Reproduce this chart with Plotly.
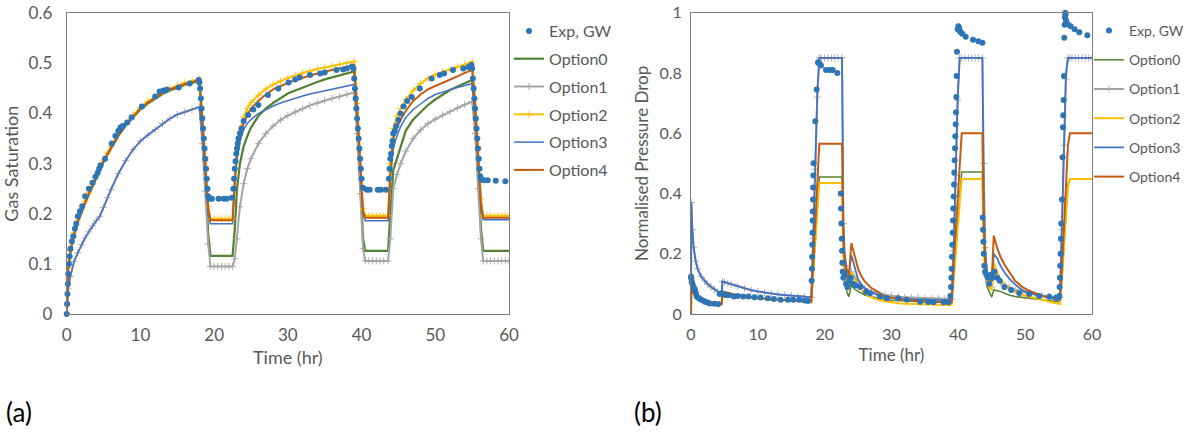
import plotly.graph_objects as go

# ---------------- (a) gas saturation ----------------
sat_time = [0, 0.2, 0.5, 1, 1.5, 2, 2.5, 3, 3.5, 4, 4.5, 5, 5.5, 6, 7, 8, 9, 10, 11, 12, 13, 14, 15, 16, 17, 18,
            18.4, 18.8, 19.2, 19.5, 20, 20.5, 21, 21.5, 22, 22.5,
            22.8, 23.1, 23.5, 24, 24.5, 25, 26, 27, 28, 29, 30, 31, 32, 33, 34, 35, 36, 37, 38, 39,
            39.4, 39.8, 40.2, 40.5, 41, 41.5, 42, 42.5, 43, 43.6,
            43.9, 44.3, 44.8, 45.3, 46, 47, 48, 49, 50, 51, 52, 53, 54, 55,
            55.4, 55.8, 56.2, 56.5, 57, 57.5, 58, 58.5, 59, 59.5, 60]

sat_opt0 = [0, 0.088, 0.123, 0.158, 0.183, 0.203, 0.221, 0.238, 0.255, 0.27, 0.288, 0.303, 0.317, 0.33, 0.355, 0.376, 0.393, 0.408, 0.42, 0.43, 0.439, 0.446, 0.452, 0.457, 0.461, 0.465,
            0.38, 0.27, 0.16, 0.116, 0.116, 0.116, 0.116, 0.116, 0.116, 0.116,
            0.17, 0.25, 0.3, 0.334, 0.355, 0.372, 0.395, 0.41, 0.421, 0.431, 0.44, 0.446, 0.452, 0.458, 0.463, 0.468, 0.472, 0.476, 0.48, 0.484,
            0.4, 0.27, 0.15, 0.126, 0.126, 0.126, 0.126, 0.126, 0.126, 0.126,
            0.2, 0.287, 0.31, 0.335, 0.366, 0.388, 0.403, 0.417, 0.428, 0.438, 0.447, 0.454, 0.461, 0.467,
            0.4, 0.28, 0.17, 0.126, 0.126, 0.126, 0.126, 0.126, 0.126, 0.126, 0.126]

sat_opt1 = [0, 0.05, 0.075, 0.105, 0.122, 0.138, 0.152, 0.164, 0.176, 0.186, 0.195, 0.213, 0.232, 0.248, 0.28, 0.306, 0.328, 0.345, 0.357, 0.368, 0.38, 0.39, 0.398, 0.403, 0.408, 0.413,
            0.34, 0.245, 0.14, 0.095, 0.095, 0.095, 0.095, 0.095, 0.095, 0.095,
            0.11, 0.15, 0.214, 0.26, 0.29, 0.31, 0.34, 0.36, 0.375, 0.387, 0.396, 0.403, 0.41, 0.416, 0.421, 0.426, 0.43, 0.434, 0.438, 0.442,
            0.36, 0.24, 0.13, 0.106, 0.106, 0.106, 0.106, 0.106, 0.106, 0.106,
            0.15, 0.25, 0.278, 0.3, 0.325, 0.35, 0.367, 0.38, 0.389, 0.397, 0.404, 0.411, 0.418, 0.424,
            0.36, 0.25, 0.15, 0.106, 0.106, 0.106, 0.106, 0.106, 0.106, 0.106, 0.106]

sat_opt2 = [0, 0.092, 0.127, 0.162, 0.187, 0.207, 0.225, 0.242, 0.259, 0.274, 0.292, 0.307, 0.321, 0.334, 0.359, 0.38, 0.397, 0.412, 0.424, 0.434, 0.443, 0.45, 0.456, 0.461, 0.465, 0.469,
            0.395, 0.305, 0.215, 0.19, 0.19, 0.19, 0.19, 0.19, 0.19, 0.19,
            0.27, 0.33, 0.365, 0.393, 0.41, 0.422, 0.437, 0.449, 0.458, 0.465, 0.471, 0.476, 0.481, 0.485, 0.489, 0.492, 0.495, 0.498, 0.501, 0.504,
            0.42, 0.31, 0.21, 0.196, 0.196, 0.196, 0.196, 0.196, 0.196, 0.196,
            0.3, 0.37, 0.395, 0.41, 0.428, 0.446, 0.46, 0.47, 0.478, 0.483, 0.488, 0.493, 0.498, 0.503,
            0.43, 0.33, 0.23, 0.196, 0.196, 0.196, 0.196, 0.196, 0.196, 0.196, 0.196]

sat_opt3 = [0, 0.05, 0.075, 0.105, 0.122, 0.138, 0.152, 0.164, 0.176, 0.186, 0.195, 0.213, 0.232, 0.248, 0.28, 0.306, 0.328, 0.345, 0.357, 0.368, 0.38, 0.39, 0.398, 0.403, 0.408, 0.413,
            0.36, 0.28, 0.2, 0.18, 0.18, 0.18, 0.18, 0.18, 0.18, 0.18,
            0.27, 0.31, 0.345, 0.368, 0.38, 0.388, 0.4, 0.408, 0.415, 0.421, 0.426, 0.431, 0.435, 0.439, 0.442, 0.445, 0.448, 0.452, 0.455, 0.458,
            0.39, 0.29, 0.2, 0.186, 0.186, 0.186, 0.186, 0.186, 0.186, 0.186,
            0.27, 0.33, 0.355, 0.374, 0.392, 0.408, 0.419, 0.43, 0.438, 0.443, 0.447, 0.452, 0.456, 0.46,
            0.4, 0.3, 0.21, 0.188, 0.188, 0.188, 0.188, 0.188, 0.188, 0.188, 0.188]

sat_opt4 = [0, 0.09, 0.125, 0.16, 0.185, 0.205, 0.223, 0.24, 0.257, 0.272, 0.29, 0.305, 0.319, 0.332, 0.357, 0.378, 0.395, 0.41, 0.422, 0.432, 0.441, 0.448, 0.454, 0.459, 0.463, 0.467,
            0.39, 0.3, 0.21, 0.187, 0.187, 0.187, 0.187, 0.187, 0.187, 0.187,
            0.26, 0.32, 0.355, 0.38, 0.397, 0.41, 0.425, 0.438, 0.448, 0.455, 0.461, 0.467, 0.472, 0.476, 0.48, 0.484, 0.487, 0.49, 0.493, 0.496,
            0.41, 0.3, 0.205, 0.192, 0.192, 0.192, 0.192, 0.192, 0.192, 0.192,
            0.28, 0.35, 0.372, 0.388, 0.405, 0.425, 0.438, 0.448, 0.455, 0.461, 0.467, 0.474, 0.481, 0.487,
            0.42, 0.32, 0.22, 0.192, 0.192, 0.192, 0.192, 0.192, 0.192, 0.192, 0.192]

sat_exp_time = [0, 0.05, 0.1, 0.15, 0.2, 0.3, 0.4, 0.5, 0.7, 0.9, 1.1, 1.3, 1.5, 1.8, 2.1, 2.5, 3.0, 3.5, 3.9, 4.2, 4.4, 4.6,
                5.2, 6.1, 6.6, 7.0, 7.3, 7.6, 8.2, 8.8, 10.2, 12.0, 12.6, 13.1, 13.6, 15.2, 16.7, 17.9,
                18.0, 18.1, 18.2, 18.3, 18.4, 18.5, 18.6, 18.7, 18.8, 18.9, 19.0, 19.1, 19.2, 19.4, 19.7, 20.6, 21.3, 21.7, 22.4,
                22.6, 22.7, 22.8, 22.9, 23.0, 23.1, 23.2, 23.3, 23.5, 23.7, 24.0, 24.6, 25.3, 26.0, 27.3, 28.7, 30.1, 31.0, 31.6,
                33.0, 34.4, 35.0, 36.6, 37.5, 38.0, 38.7,
                38.9, 39.0, 39.1, 39.2, 39.3, 39.4, 39.5, 39.6, 39.7, 39.8, 39.9, 40.0, 40.2, 40.7, 41.1, 42.2, 42.6, 43.3,
                43.7, 43.8, 43.9, 44.0, 44.1, 44.2, 44.3, 44.5, 44.7, 45.0, 45.3, 45.7, 46.2, 46.8, 47.9, 49.5, 50.6, 51.2,
                52.4, 53.8, 54.5, 54.9,
                55.0, 55.1, 55.2, 55.3, 55.4, 55.5, 55.6, 55.7, 55.8, 55.9, 56.0, 56.1, 56.3, 56.6, 57.1, 58.2, 59.5]
sat_exp = [0, 0.02, 0.04, 0.06, 0.08, 0.1, 0.115, 0.13, 0.145, 0.155, 0.17, 0.18, 0.195, 0.205, 0.215, 0.235, 0.25, 0.262, 0.274, 0.282, 0.29, 0.297,
           0.31, 0.34, 0.355, 0.365, 0.372, 0.375, 0.382, 0.392, 0.414, 0.434, 0.444, 0.446, 0.448, 0.452, 0.46, 0.467,
           0.462, 0.45, 0.43, 0.41, 0.39, 0.37, 0.35, 0.33, 0.31, 0.29, 0.27, 0.25, 0.235, 0.23, 0.23, 0.23, 0.23, 0.23, 0.232,
           0.25, 0.27, 0.29, 0.305, 0.32, 0.33, 0.34, 0.35, 0.36, 0.37, 0.385, 0.397, 0.408, 0.417, 0.437, 0.45, 0.462, 0.468, 0.472,
           0.477, 0.48, 0.482, 0.487, 0.488, 0.49, 0.494,
           0.49, 0.47, 0.45, 0.43, 0.41, 0.39, 0.37, 0.35, 0.33, 0.31, 0.29, 0.27, 0.252, 0.248, 0.248, 0.248, 0.248, 0.248,
           0.27, 0.29, 0.31, 0.32, 0.335, 0.345, 0.36, 0.365, 0.375, 0.387, 0.4, 0.414, 0.425, 0.433, 0.45, 0.47, 0.477, 0.48,
           0.487, 0.49, 0.493, 0.497,
           0.49, 0.47, 0.45, 0.43, 0.41, 0.39, 0.37, 0.35, 0.33, 0.31, 0.29, 0.275, 0.268, 0.267, 0.267, 0.266, 0.265]

# ---------------- (b) normalised pressure drop ----------------
dp_time = [0, 0.05, 0.2, 0.4, 0.7, 1, 1.5, 2, 2.5, 3, 3.5, 4, 4.6,
           4.7, 5, 5.5, 6, 7, 8, 9, 10, 11, 12, 13, 14, 15, 16, 17, 18,
           18.3, 18.6, 18.9, 19.2, 19.5, 20, 20.5, 21, 21.5, 22, 22.6,
           22.8, 23.0, 23.3, 23.6, 24.0, 24.5, 25, 25.5, 26, 27, 28, 29, 30, 31, 32, 33, 34, 35, 36, 37, 38, 39,
           39.3, 39.6, 39.9, 40.2, 40.5, 41, 41.5, 42, 42.5, 43, 43.6,
           43.8, 44.0, 44.3, 44.7, 45.0, 45.3, 45.8, 46.3, 47, 47.7, 48.5, 49.5, 50.5, 51.5, 52.5, 53.5, 54.5, 55.2,
           55.5, 55.8, 56.1, 56.4, 56.7, 57, 57.5, 58, 58.5, 59, 59.5, 60]

dp_opt0 = [0, 0.08, 0.075, 0.068, 0.06, 0.055, 0.048, 0.043, 0.04, 0.038, 0.036, 0.035, 0.034,
           0.075, 0.073, 0.07, 0.067, 0.062, 0.058, 0.055, 0.053, 0.051, 0.049, 0.047, 0.046, 0.045, 0.044, 0.043, 0.038,
           0.145, 0.249, 0.352, 0.455, 0.455, 0.455, 0.455, 0.455, 0.455, 0.455, 0.455,
           0.2, 0.12, 0.075, 0.057, 0.095, 0.082, 0.075, 0.068, 0.063, 0.057, 0.052, 0.049, 0.046, 0.044, 0.043, 0.042, 0.041, 0.041, 0.04, 0.04, 0.04, 0.039,
           0.13, 0.22, 0.31, 0.41, 0.471, 0.471, 0.471, 0.471, 0.471, 0.471, 0.471,
           0.25, 0.13, 0.09, 0.07, 0.056, 0.08, 0.078, 0.075, 0.068, 0.062, 0.058, 0.055, 0.053, 0.051, 0.048, 0.045, 0.042, 0.04,
           0.12, 0.23, 0.34, 0.43, 0.449, 0.449, 0.449, 0.449, 0.449, 0.449, 0.449, 0.449]

dp_opt1 = [0, 0.37, 0.28, 0.22, 0.175, 0.15, 0.125, 0.11, 0.099, 0.09, 0.082, 0.074, 0.066,
           0.108, 0.106, 0.102, 0.098, 0.091, 0.085, 0.079, 0.075, 0.071, 0.068, 0.065, 0.063, 0.061, 0.059, 0.057, 0.056,
           0.25, 0.48, 0.72, 0.85, 0.85, 0.85, 0.85, 0.85, 0.85, 0.85, 0.85,
           0.3, 0.16, 0.115, 0.1, 0.14, 0.12, 0.103, 0.092, 0.084, 0.074, 0.067, 0.063, 0.06, 0.058, 0.056, 0.055, 0.054, 0.053, 0.052, 0.052, 0.051, 0.05,
           0.21, 0.46, 0.71, 0.85, 0.85, 0.85, 0.85, 0.85, 0.85, 0.85, 0.85,
           0.5, 0.22, 0.13, 0.1, 0.09, 0.14, 0.12, 0.105, 0.095, 0.088, 0.08, 0.074, 0.069, 0.065, 0.061, 0.058, 0.056, 0.055,
           0.28, 0.56, 0.78, 0.85, 0.85, 0.85, 0.85, 0.85, 0.85, 0.85, 0.85, 0.85]

dp_opt2 = [0, 0.078, 0.073, 0.066, 0.058, 0.053, 0.046, 0.041, 0.038, 0.036, 0.034, 0.033, 0.032,
           0.073, 0.071, 0.068, 0.065, 0.06, 0.056, 0.053, 0.051, 0.049, 0.047, 0.045, 0.044, 0.043, 0.042, 0.041, 0.04,
           0.14, 0.238, 0.337, 0.435, 0.435, 0.435, 0.435, 0.435, 0.435, 0.435, 0.435,
           0.2, 0.13, 0.1, 0.08, 0.14, 0.11, 0.09, 0.078, 0.069, 0.055, 0.047, 0.042, 0.038, 0.036, 0.034, 0.033, 0.032, 0.031, 0.031, 0.03, 0.03, 0.03,
           0.12, 0.2, 0.29, 0.39, 0.448, 0.448, 0.448, 0.448, 0.448, 0.448, 0.448,
           0.24, 0.14, 0.1, 0.085, 0.08, 0.17, 0.14, 0.115, 0.095, 0.082, 0.072, 0.064, 0.058, 0.053, 0.047, 0.041, 0.035, 0.032,
           0.12, 0.22, 0.33, 0.42, 0.448, 0.448, 0.448, 0.448, 0.448, 0.448, 0.448, 0.448]

dp_opt3 = [0, 0.37, 0.28, 0.22, 0.175, 0.15, 0.125, 0.11, 0.099, 0.09, 0.082, 0.074, 0.066,
           0.108, 0.106, 0.102, 0.098, 0.091, 0.085, 0.079, 0.075, 0.071, 0.068, 0.065, 0.063, 0.061, 0.059, 0.057, 0.056,
           0.26, 0.5, 0.74, 0.85, 0.85, 0.85, 0.85, 0.85, 0.85, 0.85, 0.85,
           0.3, 0.2, 0.15, 0.13, 0.195, 0.15, 0.115, 0.098, 0.086, 0.072, 0.062, 0.056, 0.053, 0.051, 0.05, 0.049, 0.048, 0.047, 0.046, 0.046, 0.045, 0.045,
           0.22, 0.47, 0.72, 0.85, 0.85, 0.85, 0.85, 0.85, 0.85, 0.85, 0.85,
           0.4, 0.2, 0.14, 0.12, 0.11, 0.2, 0.185, 0.16, 0.135, 0.116, 0.098, 0.08, 0.07, 0.064, 0.059, 0.055, 0.052, 0.05,
           0.3, 0.58, 0.8, 0.85, 0.85, 0.85, 0.85, 0.85, 0.85, 0.85, 0.85, 0.85]

dp_opt4 = [0, 0.08, 0.075, 0.068, 0.06, 0.055, 0.048, 0.043, 0.04, 0.038, 0.036, 0.035, 0.034,
           0.075, 0.073, 0.07, 0.067, 0.062, 0.058, 0.055, 0.053, 0.051, 0.049, 0.047, 0.046, 0.045, 0.044, 0.043, 0.042,
           0.173, 0.304, 0.434, 0.565, 0.565, 0.565, 0.565, 0.565, 0.565, 0.565, 0.565,
           0.25, 0.17, 0.13, 0.115, 0.235, 0.19, 0.15, 0.125, 0.108, 0.086, 0.072, 0.06, 0.054, 0.05, 0.047, 0.045, 0.043, 0.042, 0.041, 0.04, 0.039, 0.038,
           0.16, 0.28, 0.4, 0.52, 0.6, 0.6, 0.6, 0.6, 0.6, 0.6, 0.6,
           0.3, 0.18, 0.13, 0.115, 0.11, 0.26, 0.22, 0.19, 0.16, 0.136, 0.11, 0.091, 0.078, 0.069, 0.061, 0.054, 0.049, 0.047,
           0.15, 0.3, 0.45, 0.56, 0.6, 0.6, 0.6, 0.6, 0.6, 0.6, 0.6, 0.6]

dp_exp_time = [0, 0.05, 0.1, 0.2, 0.35, 0.5, 0.6, 0.75, 0.85, 1.1, 1.35, 1.7, 2.1, 2.5, 2.8, 3.5, 4.1,
               4.3, 4.6, 5.1, 5.6, 6.4, 7.0, 7.8, 8.6, 9.5, 10.4, 11.5, 12.4, 13.4, 14.5, 15.3, 16.2, 17.0, 17.5,
               18.05, 18.1, 18.12, 18.15, 18.17, 18.2, 18.22, 18.25, 18.28, 18.3, 18.33, 18.6, 18.8, 19.0, 19.1, 19.25, 19.45,
               20.2, 20.8, 21.2, 21.9,
               22.4, 22.45, 22.5, 22.55, 22.6, 22.65, 22.7, 22.8, 23.0, 23.2, 23.4, 23.7, 23.9, 24.2, 24.6, 25.3, 26.2, 26.8,
               28.3, 29.3, 31.0, 32.3, 34.3, 35.5, 36.3, 37.8, 38.5,
               38.8, 38.9, 38.95, 39.0, 39.05, 39.1, 39.15, 39.2, 39.25, 39.3, 39.35, 39.4, 39.45, 39.5, 39.55, 39.6, 39.65,
               39.7, 39.75, 39.8, 39.9, 40.0, 40.1, 40.2, 40.35, 40.6, 41.1, 42.2, 43.0, 43.6,
               43.65, 43.7, 43.75, 43.8, 43.9, 44.0, 44.2, 44.4, 44.6, 44.9, 45.1, 45.4, 45.8, 46.2, 46.9, 47.9, 49.1, 50.6,
               52.1, 53.6, 54.6, 55.0,
               55.1, 55.15, 55.2, 55.25, 55.3, 55.35, 55.4, 55.5, 55.6, 55.65, 55.7, 55.75, 55.8, 55.85, 55.9, 55.95, 56.0,
               56.05, 56.1, 56.2, 56.4, 56.8, 57.4, 58.1, 59.3]
dp_exp = [0.124, 0.118, 0.107, 0.1, 0.091, 0.085, 0.08, 0.068, 0.058, 0.054, 0.05, 0.046, 0.041, 0.038, 0.035, 0.034, 0.033,
          0.066, 0.069, 0.063, 0.062, 0.058, 0.06, 0.058, 0.058, 0.056, 0.055, 0.052, 0.05, 0.047, 0.047, 0.047, 0.047, 0.045, 0.043,
          0.11, 0.15, 0.19, 0.23, 0.27, 0.31, 0.34, 0.38, 0.42, 0.46, 0.5, 0.64, 0.745, 0.835, 0.835, 0.83, 0.825,
          0.81, 0.81, 0.81, 0.8,
          0.4, 0.35, 0.3, 0.25, 0.21, 0.17, 0.14, 0.12, 0.13, 0.1, 0.09, 0.11, 0.12, 0.1, 0.095, 0.09, 0.074, 0.069,
          0.058, 0.052, 0.052, 0.047, 0.041, 0.04, 0.039, 0.039, 0.039,
          0.06, 0.09, 0.12, 0.15, 0.19, 0.23, 0.27, 0.31, 0.35, 0.39, 0.43, 0.47, 0.51, 0.55, 0.59, 0.63, 0.67,
          0.72, 0.79, 0.87, 0.945, 0.955, 0.95, 0.94, 0.935, 0.93, 0.92, 0.91, 0.905, 0.9,
          0.32, 0.28, 0.24, 0.2, 0.16, 0.14, 0.13, 0.12, 0.1, 0.13, 0.12, 0.14, 0.12, 0.11, 0.09, 0.08, 0.07, 0.066,
          0.06, 0.057, 0.054, 0.055,
          0.06, 0.09, 0.12, 0.16, 0.2, 0.25, 0.3, 0.38, 0.52, 0.62, 0.66, 0.71, 0.79, 0.917, 0.96, 0.985, 1.0,
          0.995, 0.975, 0.965, 0.962, 0.955, 0.945, 0.935, 0.925]

series_names = ["Exp, GW", "Option0", "Option1", "Option2", "Option3", "Option4"]
x_ticks = [0, 10, 20, 30, 40, 50, 60]
sat_ticks = [0, 0.1, 0.2, 0.3, 0.4, 0.5, 0.6]
dp_ticks = [0, 0.2, 0.4, 0.6, 0.8, 1]

EXP_BLUE = "#2E75B6"
GREEN = "#548235"
GREY = "#A5A5A5"
YELLOW = "#FFC000"
BLUE = "#4472C4"
ORANGE = "#C55A11"
TEXT = "#595959"
FONT = "Lato"

W, H = 1185, 435


def px_x(p):
    return p / W


def px_y(p):
    return 1 - p / H


fig = go.Figure()


def add_panel(xa, ya, legend, t, opts, t_exp, exp, styles):
    # model curves first, experimental points drawn on top
    for rank, (name, vals, st) in enumerate(zip(series_names[1:], opts, styles), start=2):
        kw = dict(x=t, y=vals, name=name, xaxis=xa, yaxis=ya, legend=legend,
                  legendgroup=legend + name, legendrank=rank,
                  line=dict(color=st["color"], width=st["width"]))
        if st.get("marker"):
            kw["mode"] = "lines+markers"
            kw["marker"] = dict(symbol="cross-thin", size=5, color=st["color"],
                                line=dict(color=st["color"], width=0.9))
        else:
            kw["mode"] = "lines"
        fig.add_trace(go.Scatter(**kw))
    fig.add_trace(go.Scatter(x=t_exp, y=exp, name=series_names[0], mode="markers",
                             xaxis=xa, yaxis=ya, legend=legend, legendgroup=legend + "exp",
                             legendrank=1, cliponaxis=False,
                             marker=dict(symbol="circle", size=6, color=EXP_BLUE)))


add_panel("x", "y", "legend", sat_time,
          [sat_opt0, sat_opt1, sat_opt2, sat_opt3, sat_opt4], sat_exp_time, sat_exp,
          [dict(color=GREEN, width=2.25), dict(color=GREY, width=2, marker=True),
           dict(color=YELLOW, width=2, marker=True), dict(color=BLUE, width=1.5),
           dict(color=ORANGE, width=2)])
add_panel("x2", "y2", "legend2", dp_time,
          [dp_opt0, dp_opt1, dp_opt2, dp_opt3, dp_opt4], dp_exp_time, dp_exp,
          [dict(color=GREEN, width=1.5), dict(color=GREY, width=2, marker=True),
           dict(color=YELLOW, width=2), dict(color=BLUE, width=1.75),
           dict(color=ORANGE, width=2)])

tick_font = dict(family=FONT, size=17, color=TEXT)
title_font = dict(family=FONT, size=18, color=TEXT)
axis_common = dict(showline=True, mirror=True, linecolor="#7F7F7F", linewidth=1,
                   showgrid=False, zeroline=False, ticks="", automargin=False,
                   tickfont=tick_font)

fig.update_layout(
    width=W, height=H,
    margin=dict(l=0, r=0, t=0, b=0, autoexpand=False),
    paper_bgcolor="white", plot_bgcolor="white",
    font=dict(family=FONT, color=TEXT),
    xaxis=dict(domain=[px_x(66.7), px_x(509)], range=[0, 60], tickvals=x_ticks,
               ticklabelstandoff=6, anchor="y",
               title=dict(text="Time (hr)", font=title_font, standoff=6),
               **axis_common),
    yaxis=dict(domain=[px_y(314), px_y(13.3)], range=[0, 0.6], tickvals=sat_ticks,
               ticktext=[f"{v:g}" for v in sat_ticks], ticklabelstandoff=10, anchor="x",
               title=dict(text="Gas Saturation", font=title_font, standoff=5),
               **axis_common),
    xaxis2=dict(domain=[px_x(691), px_x(1092)], range=[0, 60], tickvals=x_ticks,
                ticklabelstandoff=6, anchor="y2",
                title=dict(text="Time (hr)", font=dict(family=FONT, size=17, color=TEXT), standoff=6),
                **{**axis_common, "tickfont": dict(family=FONT, size=16, color=TEXT)}),
    yaxis2=dict(domain=[px_y(314), px_y(12.7)], range=[0, 1], tickvals=dp_ticks,
                ticktext=[f"{v:g}" for v in dp_ticks], ticklabelstandoff=5, anchor="x2",
                title=dict(text="Normalised Pressure Drop", font=dict(family=FONT, size=17, color=TEXT), standoff=6),
                **{**axis_common, "tickfont": dict(family=FONT, size=16, color=TEXT)}),
    legend=dict(x=px_x(509), y=px_y(14), xanchor="left", yanchor="top",
                font=dict(family=FONT, size=16, color=TEXT), tracegroupgap=4,
                bgcolor="rgba(0,0,0,0)"),
    legend2=dict(x=px_x(1089), y=px_y(15), xanchor="left", yanchor="top",
                 font=dict(family=FONT, size=14, color=TEXT), tracegroupgap=8,
                 bgcolor="rgba(0,0,0,0)"),
    annotations=[
        dict(text="(a)", x=px_x(4), y=px_y(412), xref="paper", yref="paper",
             xanchor="left", yanchor="middle", showarrow=False,
             font=dict(family=FONT, size=26, color="black")),
        dict(text="(b)", x=px_x(632), y=px_y(412), xref="paper", yref="paper",
             xanchor="left", yanchor="middle", showarrow=False,
             font=dict(family=FONT, size=26, color="black")),
    ],
)

fig.write_html("out.html")
